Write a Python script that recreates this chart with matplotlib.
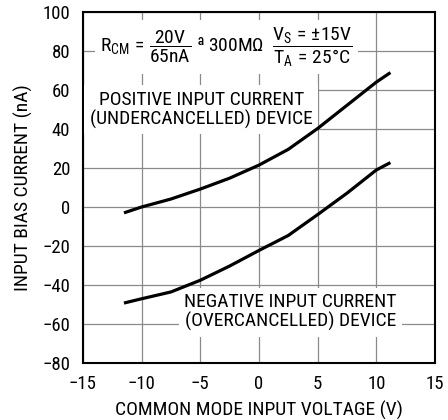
import matplotlib
matplotlib.use('Agg')
import matplotlib.pyplot as plt

# fuente condensada parecida a la del datasheet
plt.rcParams['font.family'] = ['Roboto Condensed', 'DejaVu Sans']
plt.rcParams['mathtext.fontset'] = 'custom'
plt.rcParams['mathtext.rm'] = 'Roboto Condensed'
plt.rcParams['mathtext.it'] = 'Roboto Condensed'
plt.rcParams['mathtext.sf'] = 'Roboto Condensed'

# datos
vcm = [-11.5, -10, -7.5, -5, -2.5, 0, 2.5, 5, 7.5, 10, 11.2]
i_pos = [-3.0, 0.0, 4.1, 9.2, 14.8, 21.5, 29.6, 40.3, 52.2, 64.1, 69.0]
i_neg = [-49.3, -47.1, -43.6, -37.6, -30.3, -22.3, -14.6, -3.9, 7.1, 19.0, 22.8]

xticks = [-15, -10, -5, 0, 5, 10, 15]
yticks = [-80, -60, -40, -20, 0, 20, 40, 60, 80, 100]

fig = plt.figure(figsize=(4.48, 4.2), dpi=100)
ax = fig.add_axes([0.185, 0.136, 0.786, 0.835])

# las curvas van encima de las cajas blancas de los textos
ax.plot(vcm, i_pos, color='black', lw=2.3, solid_capstyle='butt', solid_joinstyle='round', zorder=5)
ax.plot(vcm, i_neg, color='black', lw=2.3, solid_capstyle='butt', solid_joinstyle='round', zorder=5)

ax.set_xlim(-15, 15)
ax.set_ylim(-80, 100)
ax.set_xticks(xticks)
ax.set_yticks(yticks)
ax.set_xticklabels([str(t).replace('-', '\u2212') for t in xticks])
ax.set_yticklabels([str(t).replace('-', '\u2212') for t in yticks])
ax.tick_params(length=0, labelsize=13.5, pad=9)
ax.grid(True, color='#8a8a8a', lw=0.9)
ax.set_axisbelow(True)
for s in ax.spines.values():
    s.set_linewidth(1.5)

ax.set_xlabel('COMMON MODE INPUT VOLTAGE (V)', fontsize=14, labelpad=5)
ax.set_ylabel('INPUT BIAS CURRENT (nA)', fontsize=14, labelpad=7)

caja = dict(facecolor='white', edgecolor='none', pad=4)
ax.text(-13.5, 82, r'$\mathrm{R_{CM}\,=\,\dfrac{20V}{65nA}}$ ª 300M' + '\u03a9' +
        r'  $\mathrm{\dfrac{V_S\,=\,{\pm}15V}{T_A\,=\,25\degree C}}$',
        fontsize=14, ha='left', va='center', bbox=caja, zorder=4)
ax.text(-4.9, 50, 'POSITIVE INPUT CURRENT\n(UNDERCANCELLED) DEVICE', fontsize=14,
        ha='center', va='center', linespacing=1.05, bbox=caja, zorder=4)
ax.text(2.7, -54, 'NEGATIVE INPUT CURRENT\n(OVERCANCELLED) DEVICE', fontsize=14,
        ha='center', va='center', linespacing=1.05, bbox=caja, zorder=4)

plt.savefig('out.png', dpi=100)
